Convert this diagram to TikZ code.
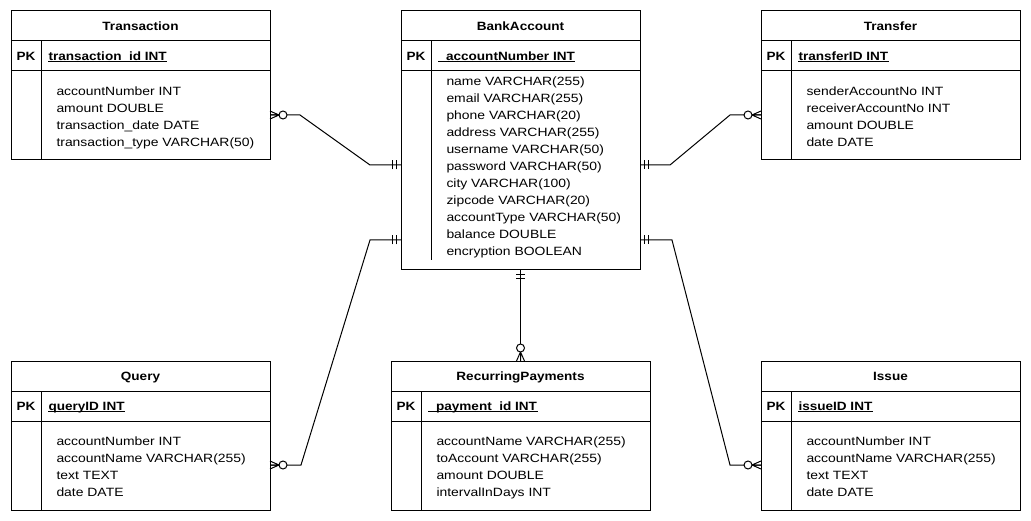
\documentclass[tikz,border=0pt]{standalone}
\usepackage{fontspec}
\setmainfont{Liberation Sans}[FakeStretch=1.16,BoldFeatures={FakeStretch=1.13}]
\newcommand{\ertable}[9]{%
  \node[tblbox,minimum width=#3,minimum height=#4] (#1) at #2 {};
  \draw ([yshift=-30pt]#1.north west) -- ([yshift=-30pt]#1.north east);
  \draw ([yshift=-60pt]#1.north west) -- ([yshift=-60pt]#1.north east);
  \draw ([xshift=30pt,yshift=-30pt]#1.north west) -- ([xshift=30pt,yshift=#9]#1.south west);
  \node[ttl] (#1-title) at ([yshift=-19.3pt]#1.north) {#5};
  \node[pkl] (#1-pk) at ([xshift=15pt,yshift=-49.3pt]#1.north west) {PK};
  \node[pkf] (#1-key) at ([xshift=37pt,yshift=-49.3pt]#1.north west) {#6};
  \draw[line width=0.9pt] ([yshift=-1.6pt]#1-key.base west) -- ([yshift=-1.6pt]#1-key.base east);
  \foreach \t [count=\i from 0] in {#8}
    \node[fld] (#1-f\i) at ([xshift=45pt,yshift={-(#7+4.3+17*\i)*1pt}]#1.north west) {\t};
}
\newcommand{\mone}[2]{\begin{scope}[shift={(#1)},rotate=#2]
  \draw (4.5,-4.5) -- (4.5,4.5) (8.5,-4.5) -- (8.5,4.5);\end{scope}}
\newcommand{\mzm}[2]{\begin{scope}[shift={(#1)},rotate=#2]
  \draw (0,-4) -- (9,0) -- (0,4) (0,0) -- (9,0);
  \draw[fill=white] (13,0) circle (4pt);\end{scope}}
\begin{document}
\begin{tikzpicture}[x=1pt,y=-1pt,line width=1pt,
  tblbox/.style={draw,anchor=north west,inner sep=0pt,outer sep=0pt},
  ttl/.style={anchor=base,inner sep=0pt,font=\fontsize{12}{14}\selectfont\bfseries},
  pkl/.style={anchor=base,inner sep=0pt,font=\fontsize{12}{14}\selectfont\bfseries},
  pkf/.style={anchor=base west,inner sep=0pt,font=\fontsize{12}{14}\selectfont\bfseries},
  fld/.style={anchor=base west,inner sep=0pt,font=\fontsize{12}{14}\selectfont},
  conn/.style={line width=1pt}]
\fill[white] (0,0) rectangle (1031,521);
\useasboundingbox (0,0) rectangle (1031,521);

\ertable{T}{(11,11)}{259pt}{149pt}{Transaction}{transaction\_id INT}{80}
  {accountNumber INT,amount DOUBLE,transaction\_date DATE,transaction\_type VARCHAR(50)}{0pt}
\ertable{B}{(401,11)}{239pt}{259pt}{BankAccount}{\_accountNumber INT}{70}
  {name VARCHAR(255),email VARCHAR(255),phone VARCHAR(20),address VARCHAR(255),username VARCHAR(50),password VARCHAR(50),city VARCHAR(100),zipcode VARCHAR(20),accountType VARCHAR(50),balance DOUBLE,encryption BOOLEAN}{10pt}
\ertable{R}{(761,11)}{259pt}{149pt}{Transfer}{transferID INT}{80}
  {senderAccountNo INT,receiverAccountNo INT,amount DOUBLE,date DATE}{0pt}
\ertable{Q}{(11,361)}{259pt}{149pt}{Query}{queryID INT}{80}
  {accountNumber INT,accountName VARCHAR(255),text TEXT,date DATE}{0pt}
\ertable{P}{(391,361)}{259pt}{149pt}{RecurringPayments}{\_payment\_id INT}{80}
  {accountName VARCHAR(255),toAccount VARCHAR(255),amount DOUBLE,intervalInDays INT}{0pt}
\ertable{I}{(761,361)}{259pt}{149pt}{Issue}{issueID INT}{80}
  {accountNumber INT,accountName VARCHAR(255),text TEXT,date DATE}{0pt}

% connector end points
\coordinate (T-e) at ([yshift=-104pt]T.north east);
\coordinate (B-w1) at ([yshift=-154pt]B.north west);
\coordinate (B-e1) at ([yshift=-154pt]B.north east);
\coordinate (R-w) at ([yshift=-104pt]R.north west);
\coordinate (B-w2) at ([yshift=-229pt]B.north west);
\coordinate (B-e2) at ([yshift=-229pt]B.north east);
\coordinate (Q-e) at ([yshift=-104pt]Q.north east);
\coordinate (I-w) at ([yshift=-104pt]I.north west);

\draw[conn] (T-e) -- (300,115) -- (370,165) -- (B-w1);
\draw[conn] (B-e1) -- (670,165) -- (730,115) -- (R-w);
\draw[conn] (B-w2) -- (370,240) -- (301,465) -- (Q-e);
\draw[conn] (B-e2) -- (672,240) -- (730,465) -- (I-w);
\draw[conn] (B.south) -- (P.north);

\mzm{T-e}{0}   \mone{B-w1}{180}
\mone{B-e1}{0} \mzm{R-w}{180}
\mone{B-w2}{180} \mzm{Q-e}{0}
\mone{B-e2}{0} \mzm{I-w}{180}
\mone{B.south}{-90} \mzm{P.north}{90}
\end{tikzpicture}
\end{document}
